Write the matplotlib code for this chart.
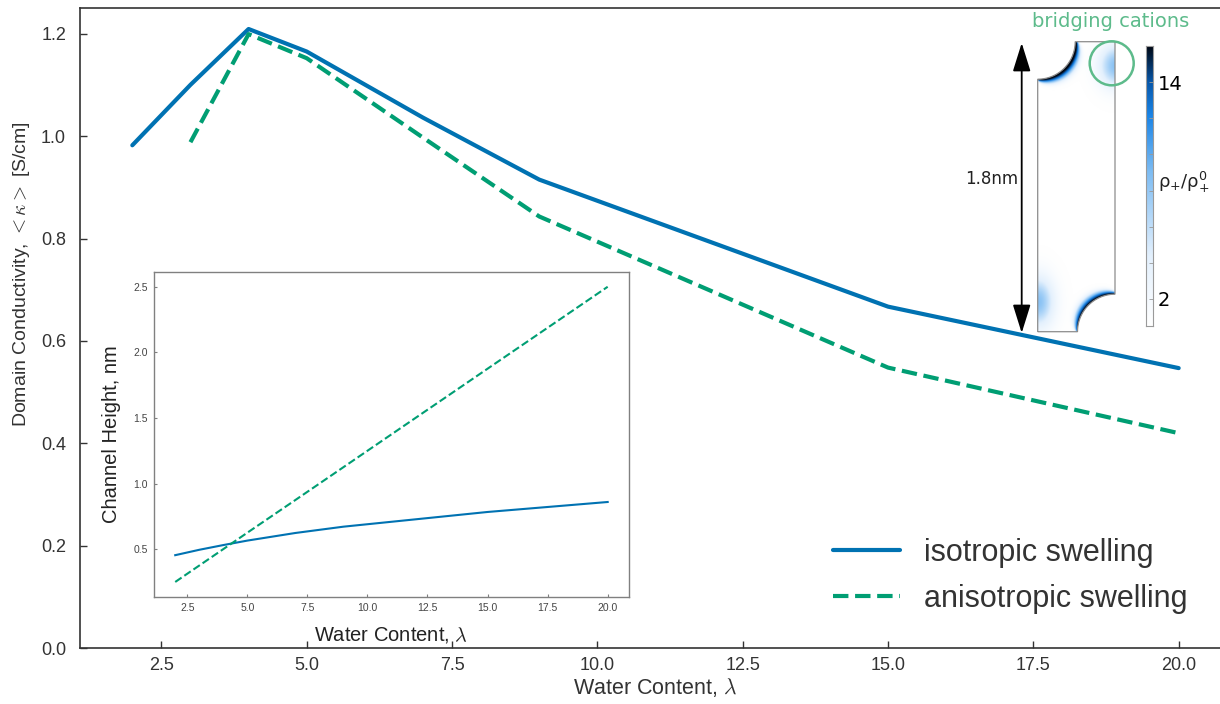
import numpy as np
import matplotlib
matplotlib.use('Agg')
import matplotlib.pyplot as plt
from matplotlib.path import Path
from matplotlib.patches import PathPatch, Circle, FancyArrowPatch
from matplotlib.colors import LinearSegmentedColormap

plt.rcParams['font.family'] = ['Liberation Sans', 'DejaVu Sans']
plt.rcParams['mathtext.fontset'] = 'cm'

# domain conductivity vs water content
lam_iso = [2, 3, 4, 5, 7, 9, 15, 20]
kappa_iso = [0.982, 1.100, 1.209, 1.165, 1.036, 0.915, 0.667, 0.547]
lam_aniso = [3, 4, 5, 7, 9, 15, 20]
kappa_aniso = [0.988, 1.199, 1.152, 0.997, 0.843, 0.548, 0.420]

# channel height vs water content (inset)
lam_h = [2, 3, 4, 5, 7, 9, 15, 20]
height_iso = [0.456, 0.497, 0.533, 0.567, 0.625, 0.673, 0.785, 0.861]
height_aniso = [0.252, 0.377, 0.502, 0.627, 0.876, 1.126, 1.876, 2.500]

lam_ticks = [2.5, 5.0, 7.5, 10.0, 12.5, 15.0, 17.5, 20.0]
kappa_ticks = [0.0, 0.2, 0.4, 0.6, 0.8, 1.0, 1.2]
height_ticks = [0.5, 1.0, 1.5, 2.0, 2.5]
cbar_ticks = [2, 14]

BLUE = '#0072B2'
GREEN = '#009E73'
LIGHT_GREEN = '#5DBB8B'
DARK = '#333333'

W_PX, H_PX = 1220, 704


def fx(x):
    return x / W_PX


def fy(y):
    return 1 - y / H_PX


def fig_box(x0, y0, x1, y1):
    # pixel box with y measured from the top edge
    return [fx(x0), fy(y1), (x1 - x0) / W_PX, (y1 - y0) / H_PX]


fig = plt.figure(figsize=(12.2, 7.04), dpi=100)

# main axes
ax = fig.add_axes(fig_box(80, 8, 1231, 648.3))
ax.plot(lam_iso, kappa_iso, color=BLUE, lw=3, solid_joinstyle='round',
        solid_capstyle='round', label='isotropic swelling')
ax.plot(lam_aniso, kappa_aniso, color=GREEN, lw=3, ls='--',
        dash_joinstyle='round', label='anisotropic swelling')
ax.set_xlim(1.1, 20.9)
ax.set_ylim(0, 1.25)
ax.set_xticks(lam_ticks)
ax.set_yticks(kappa_ticks)
ax.xaxis.set_major_formatter('{x:.1f}')
ax.yaxis.set_major_formatter('{x:.1f}')
ax.tick_params(direction='in', length=5, width=1, color=DARK,
               labelcolor=DARK, labelsize=13)
ax.tick_params(axis='x', pad=6)
ax.tick_params(axis='y', pad=10)
for s in ax.spines.values():
    s.set_color(DARK)
    s.set_linewidth(1.2)
ax.set_xlabel(r'Water Content, $\lambda$', fontsize=15.5, color=DARK, labelpad=2)
ax.set_ylabel(r'Domain Conductivity, $<\kappa>$ [S/cm]', fontsize=14, color=DARK)
ax.yaxis.set_label_coords(-0.0417, 0.585)

ax.legend(loc='upper left', bbox_to_anchor=(fx(833), fy(538)),
          bbox_transform=fig.transFigure, frameon=False, fontsize=22,
          handlelength=2.2, handletextpad=0.78, labelspacing=0.52,
          borderpad=0, borderaxespad=0, labelcolor=DARK)

# inset: channel height
axi = fig.add_axes(fig_box(153.6, 272, 629.3, 597))
axi.plot(lam_h, height_iso, color=BLUE, lw=1.5)
axi.plot(lam_h, height_aniso, color=GREEN, lw=1.5, ls='--')
axi.set_xlim(1.1, 20.9)
axi.set_ylim(0.1375, 2.6125)
axi.set_xticks(lam_ticks)
axi.set_yticks(height_ticks)
axi.xaxis.set_major_formatter('{x:.1f}')
axi.yaxis.set_major_formatter('{x:.1f}')
axi.tick_params(direction='in', length=2, width=0.8, color='#7f7f7f',
                labelcolor='#444444', labelsize=7.5, pad=4)
for s in axi.spines.values():
    s.set_color('#808080')
    s.set_linewidth(1.0)
axi.set_xlabel(r'Water Content, $\lambda$', fontsize=14.5, color='#222222', labelpad=9)
axi.set_ylabel('Channel Height, nm', fontsize=14.5, color='#222222', labelpad=9)

# pore cross-section with cation density
W, H, R = 77.3, 290.0, 37.5
t1 = np.linspace(np.pi, np.pi / 2, 40)
t2 = np.linspace(0, -np.pi / 2, 40)
verts = ([(0, 0), (W - R, 0)]
         + list(zip(W + R * np.cos(t1), R * np.sin(t1)))
         + [(W, H), (R, H)]
         + list(zip(R * np.cos(t2), H + R * np.sin(t2)))
         + [(0, 0)])
pore_path = Path(verts)

yy, xx = np.mgrid[0:H:0.5, 0:W:0.5]


def wall_layer(cx, cy):
    r = np.hypot(xx - cx, yy - cy)
    d = np.clip(r - R, 0, None)
    phi = np.arctan2(np.abs(yy - cy), np.abs(xx - cx))
    w = 1.5 + 5.5 * np.sin(2 * phi) ** 0.6
    return 16.0 * np.exp(-(d / w) ** 2)


def cloud(cx, cy, sx, sy, amp):
    return amp * np.exp(-0.5 * ((xx - cx) / sx) ** 2 - 0.5 * ((yy - cy) / sy) ** 2)


rho = (0.5 + wall_layer(0, H) + wall_layer(W, 0)
       + cloud(W, H - 24, 12, 15, 8.0) + cloud(0, 30, 11, 18, 8.0))

pore_cmap = LinearSegmentedColormap.from_list('pore', [
    (0.0, '#ffffff'), (0.25, '#e3f0fd'), (0.55, '#7dbcf3'),
    (0.75, '#1a84e6'), (0.87, '#0757aa'), (1.0, '#00050f')])
vmin, vmax = 0.5, 16.0

axp = fig.add_axes(fig_box(1037.7, 41.7, 1115, 331.7))
axp.set_xlim(0, W)
axp.set_ylim(0, H)
axp.axis('off')
img = axp.imshow(rho, extent=(0, W, 0, H), origin='lower', cmap=pore_cmap,
                 vmin=vmin, vmax=vmax, interpolation='bilinear', aspect='auto')
clip = PathPatch(pore_path, transform=axp.transData, fc='none', ec='none')
axp.add_patch(clip)
img.set_clip_path(clip)
axp.add_patch(PathPatch(pore_path, fc='none', ec='#8c8c8c', lw=0.9, clip_on=False))

# colour scale
axc = fig.add_axes(fig_box(1146, 46, 1153.3, 326))
axc.imshow(np.linspace(vmin, vmax, 256)[:, None], aspect='auto', origin='lower',
           extent=(0, 1, vmin, vmax), cmap=pore_cmap, vmin=vmin, vmax=vmax)
axc.set_xticks([])
axc.yaxis.tick_right()
axc.set_yticks(cbar_ticks)
axc.set_yticks([4, 6, 8, 10, 12], minor=True)
axc.tick_params(axis='y', which='both', direction='in', length=3, width=0.6,
                color='#999999', labelsize=14, pad=3)
for lab in axc.get_yticklabels():
    lab.set_family('DejaVu Sans')
for s in axc.spines.values():
    s.set_color('#9a9a9a')
    s.set_linewidth(0.8)
fig.text(fx(1158), fy(182), r'$\mathrm{\rho_{+}/\rho_{+}^{0}}$', fontsize=13,
         math_fontfamily='dejavusans', ha='left', va='center', color='#222222')

# channel height marker
fig.add_artist(FancyArrowPatch((fx(1021.7), fy(43)), (fx(1021.7), fy(333)),
                               transform=fig.transFigure,
                               arrowstyle='<|-|>,head_length=0.8,head_width=0.25',
                               mutation_scale=22, color='black', lw=1.3,
                               shrinkA=0, shrinkB=0))
fig.text(fx(992), fy(179), '1.8nm', fontsize=12, family='DejaVu Sans',
         ha='center', va='center', color='#222222')

# bridging cations highlight
fig.add_artist(Circle((1111.7 / 100, (H_PX - 63.3) / 100), 0.22,
                      transform=fig.dpi_scale_trans,
                      fc='none', ec=LIGHT_GREEN, lw=1.8))
fig.text(fx(1111), fy(21.7), 'bridging cations', fontsize=14, family='DejaVu Sans',
         ha='center', va='center', color=LIGHT_GREEN)

fig.savefig('out.png', dpi=100)
